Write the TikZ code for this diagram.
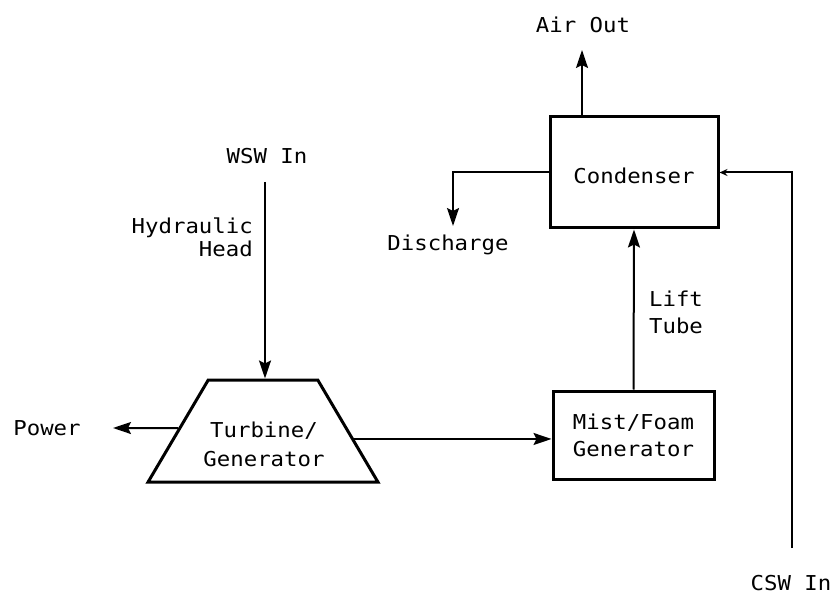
\documentclass[tikz,border=0pt]{standalone}
\usepackage{fontspec}
\setmainfont{DejaVu Sans Mono}[FakeStretch=1.09]
\usetikzlibrary{arrows.meta,shapes.geometric}
\tikzset{
  unitbox/.style={draw,line width=3pt,inner sep=0pt},
  flow/.style={line width=2pt,-{Stealth[length=18pt,width=12pt,inset=3pt]}},
  lbl/.style={inner sep=0pt,align=center}
}
\begin{document}
\begin{tikzpicture}[x=1pt,y=-1pt,font=\fontsize{20.5}{27}\selectfont]
        \useasboundingbox (0,0) rectangle (840,601);
        \node[unitbox,minimum width=168pt,minimum height=111pt] (cond) at (634,172.5) {};
        \node[lbl] (condtxt) at (634,176) {Condenser};
        \node[unitbox,minimum width=161pt,minimum height=88pt,align=center] (mist) at (633.5,435) {Mist/Foam\\Generator};
        \node[unitbox,trapezium,trapezium stretches=true,trapezium angle=63.7,
              minimum width=230pt,minimum height=102pt] (turb) at (263,431) {\phantom{X}};
        \node[lbl,font=\fontsize{20.5}{29}\selectfont] (turbtxt) at (264,444) {Turbine/\\Generator};
        \node[lbl] (airout) at (583,25) {Air Out};
        \node[lbl] (disch) at (448,245) {Discharge};
        \node[lbl] (wswin) at (267,156) {WSW In};
        \node[lbl,align=right,anchor=east,font=\fontsize{20.5}{23}\selectfont] (hhead) at (253,237) {Hydraulic\\Head};
        \node[lbl] (power) at (47,428) {Power};
        \node[lbl] (lift) at (676,312) {Lift\\Tube};
        \node[lbl] (cswin) at (791,583) {CSW In};
        \coordinate (airtip) at (582,50);
        \coordinate (distip) at (453,226);
        \coordinate (wswtop) at (265,182);
        \coordinate (powtip) at (113,428);
        \coordinate (cswend) at (792,548);
        \draw[flow] (airtip |- cond.north) -- (airtip);
        \draw[flow] (cond.west) -- (cond.west -| distip) -- (distip);
        \draw[flow] (wswtop) -- (wswtop |- turb.north);
        \draw[flow] (turb.178) -- (powtip);
        \draw[flow] (turb.-5) -- (turb.-5 -| mist.west);
        \draw[flow] (mist.north) -- (cond.south);
        \draw[line width=2pt,-{Stealth[open,length=8pt,width=7pt]}] (cswend) -- (cswend |- cond.east) -- (cond.east);
      \end{tikzpicture}
\end{document}
